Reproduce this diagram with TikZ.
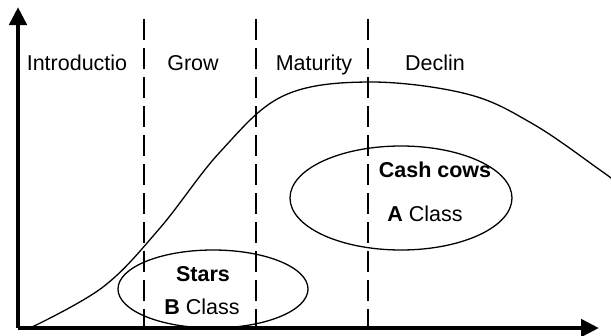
\documentclass[tikz,border=0pt]{standalone}
\usepackage{fontspec}
\setmainfont{Liberation Sans}
\usetikzlibrary{arrows.meta,shapes.geometric}

\begin{document}
\begin{tikzpicture}[x=1pt,y=-1pt,
  axis/.style={line width=4.5pt,-{Triangle[length=18pt,width=17pt]}},
  phase/.style={line width=2.8pt,dash pattern=on 21pt off 8pt},
  lbl/.style={font=\fontsize{21.5}{25}\selectfont,anchor=base},
  cls/.style={draw,ellipse,line width=1.3pt,inner sep=0pt}]
\useasboundingbox (0,0) rectangle (611,335);
% axes
\coordinate (o) at (18,328);
\coordinate (ytop) at (18,7);
\coordinate (xend) at (599,328);
\draw[axis] (o) -- (ytop);
\draw[axis] (o) -- (xend);
% phase borders
\foreach \x/\n in {144/b1,256/b2,368/b3}{
  \coordinate (\n t) at (\x,19);
  \coordinate (\n b) at (\x,328);
  \draw[phase] (\n t) -- (\n b);
}
\node[lbl] (intro) at (77,70) {Introductio};
\node[lbl] (grow) at (193,70) {Grow};
\node[lbl] (mat) at (314,70) {Maturity};
\node[lbl] (decl) at (435,70) {Declin};
% life cycle curve
\draw[line width=1.3pt] plot[smooth,tension=0.6] coordinates
  {(30,328) (103,287) (160,228) (220,152) (283,96) (368,82)
   (467,94) (533,124) (600,170) (620,185)};
% classes
\node[cls,minimum width=190pt,minimum height=78pt] (bcls) at (213,289) {};
\node[cls,minimum width=222pt,minimum height=104pt] (acls) at (401,198) {};
\node[lbl,font=\fontsize{21.5}{25}\selectfont\bfseries] (stars) at (203,281) {Stars};
\node[lbl] (bname) at (202,314) {\textbf{B} Class};
\node[lbl,font=\fontsize{21.5}{25}\selectfont\bfseries] (cash) at (435,177) {Cash cows};
\node[lbl] (aname) at (425,221) {\textbf{A} Class};
\end{tikzpicture}
\end{document}
